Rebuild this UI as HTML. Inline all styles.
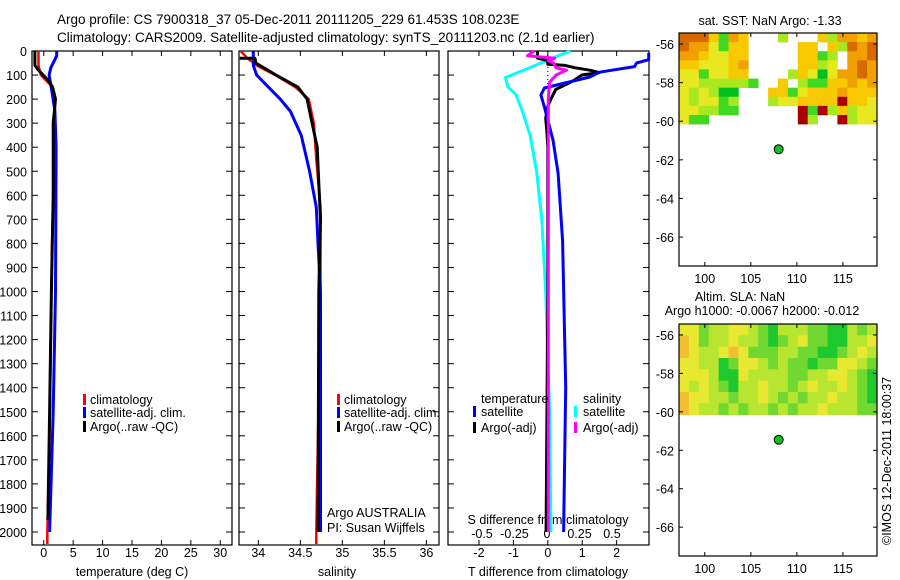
<!DOCTYPE html>
<html><head><meta charset="utf-8"><style>
body{margin:0;background:#fff}
svg{display:block;font-family:"Liberation Sans",sans-serif}
text{font-size:12.5px;fill:#000}
</style></head><body>
<svg id="c" width="900" height="580" viewBox="0 0 900 580">
<text x="57" y="24" style="font-size:13.5px">Argo profile: CS 7900318_37 05-Dec-2011 20111205_229 61.453S 108.023E</text>
<text x="57" y="42" style="font-size:13.5px">Climatology: CARS2009. Satellite-adjusted climatology: synTS_20111203.nc (2.1d earlier)</text>
<text x="770" y="25" text-anchor="middle">sat. SST: NaN Argo: -1.33</text>
<text x="740" y="301" text-anchor="middle">Altim. SLA: NaN</text>
<text x="762" y="315" text-anchor="middle">Argo h1000: -0.0067 h2000: -0.012</text>
<text transform="translate(891,545) rotate(-90)">©IMOS 12-Dec-2011 18:00:37</text>
<g id="g"></g>
</svg>
<script>
// ---------- data ----------
const depthTicks=[0,100,200,300,400,500,600,700,800,900,1000,1100,1200,1300,1400,1500,1600,1700,1800,1900,2000];
const tempTicks=[0,5,10,15,20,25,30];
const salTicks=[34,34.5,35,35.5,36];
const tdiffTicks=[-2,-1,0,1,2];
const sdiffTicks=[-0.5,-0.25,0,0.25,0.5];
const tdiffTickLabels=["-2","-1","0","1","2"];
const sdiffTickLabels=["-0.5","-0.25","0","0.25","0.5"];

const tClimDepth=[0,60,100,150,200,400,800,1200,1600,2000,2050];
const tClimVal=[-0.9,-0.9,-0.5,1.5,1.9,1.9,1.4,1.2,1.0,0.6,0.6];
const tSatDepth=[0,20,70,100,170,250,400,1000,1500,2000];
const tSatVal=[2.2,2.2,1.2,0.9,1.4,1.9,2.1,2.0,1.6,1.0];
const tArgoDepth=[0,60,80,120,150,200,300,600,1000,1500,1950];
const tArgoVal=[-1.5,-1.5,-0.9,0.7,1.5,2.0,1.6,1.6,1.3,1.0,0.7];

const sClimDepth=[0,30,60,100,150,200,300,450,650,1000,2000,2050];
const sClimVal=[33.79,33.87,33.98,34.2,34.44,34.6,34.66,34.69,34.74,34.74,34.69,34.69];
const sSatDepth=[0,60,100,150,200,250,350,500,650,800,1000,2000];
const sSatVal=[33.94,33.94,33.98,34.12,34.26,34.38,34.51,34.61,34.69,34.71,34.74,34.74];
const sArgoDepth=[30,30,50,100,150,200,300,400,550,700,1000,2000];
const sArgoVal=[33.78,33.96,33.97,34.21,34.47,34.58,34.64,34.70,34.72,34.74,34.72,34.71];

const dTSatDepth=[8,36,50,65,88,108,133,154,183,233,370,508,790,1400,2000];
const dTSatVal=[2.93,2.93,2.58,2.52,1.5,1.22,0.5,-0.1,-0.2,-0.1,0.15,0.3,0.43,0.52,0.46];
const dTArgoDepth=[0,30,40,55,60,70,80,90,100,120,135,160,200,230,280,330,400,1000,2000];
const dTArgoVal=[-0.3,-0.3,0,0,0.5,0.8,1.22,1.5,0.99,0.78,0.58,0.23,0.09,0,-0.06,-0.03,0,0,-0.05];
const dSSatDepth=[0,20,50,80,110,150,180,250,350,500,700,1000,1500,2000];
const dSSatVal=[0.18,0.085,-0.045,-0.18,-0.32,-0.3,-0.24,-0.19,-0.13,-0.08,-0.04,-0.01,0.02,0.03];
const dSArgoDepth=[0,20,30,40,50,70,80,100,130,200,300,2000];
const dSArgoVal=[-0.1,-0.15,0.06,0.01,0.05,0.07,0.15,0.07,0.02,0.01,0.01,0.01];

const mapLonTicks=[100,105,110,115];
const mapLatTicks=[-56,-58,-60,-62,-64,-66];
const argoLon=108.023, argoLat=-61.453;
const sstGrid=[
"6664154...2...425545",
"6553144.....44.42656",
"5543344.....4412.556",
"4433345.....4423.565",
"3313344....243035565",
"33222221..4.21144545",
"323200...44134445444",
"323312...23344447443",
"332211......71724233",
"311.........72..7233"];
const slaGrid=[
"33122332102221100212",
"43122322101231100223",
"43223431112211001232",
"33220133212110113321",
"33320032222112233210",
"32321022322123223210",
"43322122321212232210",
"43221212212122322211"];
const sstColors=["#00c020","#40d820","#a8e820","#e8e820","#f8c800","#f0a000","#d86800","#a80000"];
const slaColors=["#20c830","#70d830","#b8e630","#e8e830","#f0c030"];

// ---------- helpers ----------
const NS="http://www.w3.org/2000/svg";
const G=document.getElementById('g');
function mk(tag,attrs,parent){const e=document.createElementNS(NS,tag);for(const k in attrs)e.setAttribute(k,attrs[k]);(parent||G).appendChild(e);return e;}
const Y0=51,Ybot=545;
const yD=d=>Y0+d*0.2405;
const panels=[{x0:32,x1:232,lo:-2,hi:32},{x0:239,x1:439,lo:33.77,hi:36.15},{x0:448,x1:649,lo:-2.9,hi:2.94}];
function xs(p,v){return p.x0+(v-p.lo)/(p.hi-p.lo)*(p.x1-p.x0);}
const xS=v=>547+130*v;

function frame(p,name){
  const r=mk('rect',{x:p.x0,y:Y0,width:p.x1-p.x0,height:Ybot-Y0,fill:'none',stroke:'#000','stroke-width':1.2});
  
  
  depthTicks.forEach(d=>{
    const t1=mk('line',{x1:p.x0,x2:p.x0+6,y1:yD(d),y2:yD(d),stroke:'#000'});
    
    
    const t2=mk('line',{x1:p.x1-6,x2:p.x1,y1:yD(d),y2:yD(d),stroke:'#000'});
    
    
  });
}
function xticks(p,ticks,labels,ly){
  ticks.forEach((v,i)=>{
    const x=xs(p,v);
    const a=mk('line',{x1:x,x2:x,y1:Y0,y2:Y0+5,stroke:'#000'});
    
    
    const b=mk('line',{x1:x,x2:x,y1:Ybot-5,y2:Ybot,stroke:'#000'});
    
    
    const t=mk('text',{x:x,y:ly,'text-anchor':'middle'});t.textContent=labels[i];
    
    
  });
}
function prof(xf,depths,vals,color,w,name){
  const pts=depths.map((d,i)=>xf(vals[i]).toFixed(1)+','+yD(d).toFixed(1));
  const l=mk('polyline',{points:pts.join(' '),fill:'none',stroke:color,'stroke-width':w,'stroke-linejoin':'round'});
  
  
}
function txt(x,y,s,name,anchor){const t=mk('text',{x:x,y:y,'text-anchor':anchor||'start'});t.textContent=s;
  
  return t;}
function swatch(x,y,color,name){const r=mk('rect',{x:x,y:y-10,width:3,height:11,fill:color});
  
  }

// depth labels
depthTicks.forEach(d=>{txt(27,yD(d)+5,String(d),'depth-tick-label','end');});

// panel 1 temperature
const P1=panels[0];frame(P1,'temperature-panel');
xticks(P1,tempTicks,tempTicks.map(String),557);
txt(132,576,'temperature (deg C)','temperature-axis-title','middle');
prof(v=>xs(P1,v),tClimDepth,tClimVal,'#ff0000',2.5,'temp-climatology-line');
prof(v=>xs(P1,v),tSatDepth,tSatVal,'#0000ff',3,'temp-satellite-line');
prof(v=>xs(P1,v),tArgoDepth,tArgoVal,'#000000',3,'temp-argo-line');
swatch(83,404,'#ff0000','legend-climatology-swatch');txt(90,404,'climatology','legend-climatology');
swatch(83,417,'#0000ff','legend-satellite-swatch');txt(90,417,'satellite-adj. clim.','legend-satellite');
swatch(83,431,'#000','legend-argo-swatch');txt(90,431,'Argo(..raw -QC)','legend-argo');

// panel 2 salinity
const P2=panels[1];frame(P2,'salinity-panel');
xticks(P2,salTicks,salTicks.map(String),557);
txt(337,576,'salinity','salinity-axis-title','middle');
prof(v=>xs(P2,v),sClimDepth,sClimVal,'#ff0000',2.5,'sal-climatology-line');
prof(v=>xs(P2,v),sSatDepth,sSatVal,'#0000ff',3,'sal-satellite-line');
prof(v=>xs(P2,v),sArgoDepth,sArgoVal,'#000000',3,'sal-argo-line');
swatch(337,404,'#ff0000','legend-climatology-swatch');txt(344,404,'climatology','legend-climatology');
swatch(337,417,'#0000ff','legend-satellite-swatch');txt(344,417,'satellite-adj. clim.','legend-satellite');
swatch(337,431,'#000','legend-argo-swatch');txt(344,431,'Argo(..raw -QC)','legend-argo');
txt(327,517,'Argo AUSTRALIA','argo-program-label');
txt(327,532,'PI: Susan Wijffels','pi-label');

// panel 3 differences
const P3=panels[2];frame(P3,'difference-panel');
xticks(P3,tdiffTicks,tdiffTickLabels,557);
const z=mk('line',{x1:xs(P3,0),x2:xs(P3,0),y1:Y0,y2:yD(250),stroke:'#000','stroke-dasharray':'1,3'});


sdiffTicks.forEach((v,i)=>txt(xS(v),538,sdiffTickLabels[i],'s-diff-tick-label','middle'));
txt(548,524,'S difference from climatology','s-diff-axis-title','middle');
txt(548,576,'T difference from climatology','t-diff-axis-title','middle');
prof(xS,dSSatDepth,dSSatVal,'#00ffff',3,'sdiff-satellite-line');
prof(v=>xs(P3,v),dTArgoDepth,dTArgoVal,'#000',3,'tdiff-argo-line');
prof(v=>xs(P3,v),dTSatDepth,dTSatVal,'#0000ff',3,'tdiff-satellite-line');
prof(xS,dSArgoDepth,dSArgoVal,'#ff00ff',3,'sdiff-argo-line');
txt(481,403,'temperature','legend-temperature-header');
txt(583,403,'salinity','legend-salinity-header');
swatch(473,416,'#0000ff','legend-t-satellite-swatch');txt(481,416,'satellite','legend-t-satellite');
swatch(473,432,'#000','legend-t-argo-swatch');txt(481,432,'Argo(-adj)','legend-t-argo');
swatch(574,416,'#00ffff','legend-s-satellite-swatch');txt(583,416,'satellite','legend-s-satellite');
swatch(574,432,'#ff00ff','legend-s-argo-swatch');txt(583,432,'Argo(-adj)','legend-s-argo');

// maps
function drawMap(top,bottom,grid,colors,name){
  const m={x0:679,x1:877,y0:top,y1:bottom,lonLo:97.2,lonHi:118.7,latTop:-55.43,latBot:-67.5};
  const lx=lon=>m.x0+(lon-m.lonLo)/(m.lonHi-m.lonLo)*(m.x1-m.x0);
  const ly=lat=>m.y0+(m.latTop-lat)/(m.latTop-m.latBot)*(m.y1-m.y0);
  const rows=grid.length,cols=grid[0].length;
  const latStep=(-55.43+60.15)/rows, lonStep=(m.lonHi-m.lonLo)/cols;
  for(let r=0;r<rows;r++)for(let c=0;c<cols;c++){
    const ch=grid[r][c];if(ch==='.')continue;
    const xa=lx(m.lonLo+c*lonStep),xb=lx(m.lonLo+(c+1)*lonStep);
    const ya=ly(m.latTop-r*latStep),yb=ly(m.latTop-(r+1)*latStep);
    const cell=mk('rect',{x:xa,y:ya,width:xb-xa+0.3,height:yb-ya+0.3,fill:colors[+ch]});
    
    
  }
  const f=mk('rect',{x:m.x0,y:m.y0,width:m.x1-m.x0,height:m.y1-m.y0,fill:'none',stroke:'#000','stroke-width':1.2});
  
  
  mapLonTicks.forEach(v=>{
    const x=lx(v);
    const a=mk('line',{x1:x,x2:x,y1:m.y0,y2:m.y0+4,stroke:'#000'});
    
    
    const b=mk('line',{x1:x,x2:x,y1:m.y1-4,y2:m.y1,stroke:'#000'});
    
    
    txt(x,m.y1+17,String(v),'lon-tick-label','middle');
  });
  mapLatTicks.forEach(v=>{
    const y=ly(v);
    const a=mk('line',{x1:m.x0,x2:m.x0+4,y1:y,y2:y,stroke:'#000'});
    
    
    const b=mk('line',{x1:m.x1-4,x2:m.x1,y1:y,y2:y,stroke:'#000'});
    
    
    txt(m.x0-5,y+5,String(v),'lat-tick-label','end');
  });
  const dot=mk('circle',{cx:lx(argoLon),cy:ly(argoLat),r:4.5,fill:'#10c020',stroke:'#000','stroke-width':1});
  
  
}
drawMap(33,266,sstGrid,sstColors,'sst-map');
drawMap(324,556,slaGrid,slaColors,'sla-map');
</script>
</body></html>
